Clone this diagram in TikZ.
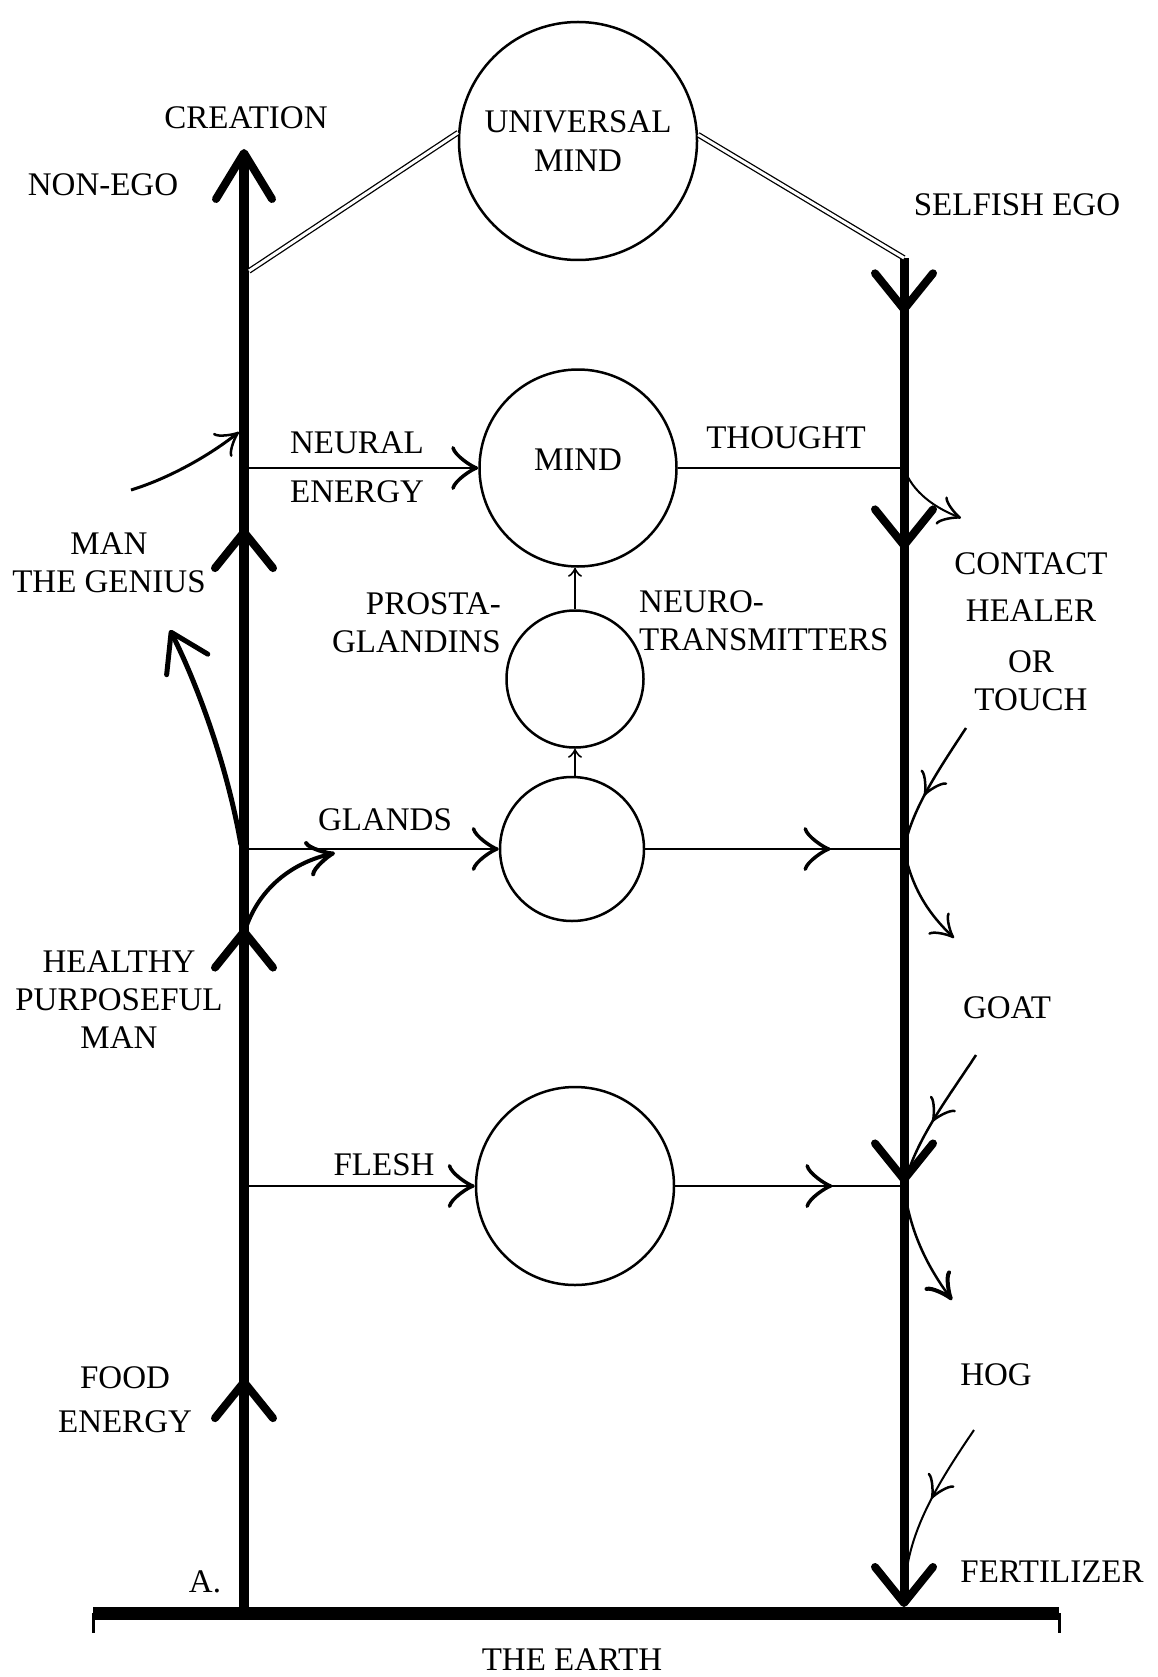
\documentclass[tikz,border=0pt]{standalone}
\usepackage{fontspec}
\setmainfont{Liberation Serif}
\usepackage{tikz}
\usetikzlibrary{arrows.meta,positioning,calc,decorations.markings}

\begin{document}
\begin{tikzpicture}[
    x=1pt, y=-1pt,
    bigtip/.tip={Straight Barb[length=36pt, width=58pt, line width=8pt, round]},
    toptip/.tip={Straight Barb[length=46pt, width=56pt, line width=8pt, round]},
    midtip/.tip={Classical TikZ Rightarrow[length=27pt, width=44pt, line width=3.5pt]},
    smalltip/.tip={Classical TikZ Rightarrow[length=22pt, width=30pt, line width=2.5pt]},
    tinytip/.tip={Classical TikZ Rightarrow[length=9pt, width=14pt, line width=1.6pt]},
    lbl/.style={font=\fontsize{33}{38}\selectfont, align=center, inner sep=0pt},
    orb/.style={circle, draw, line width=2.5pt, inner sep=0pt, minimum size=#1, font=\fontsize{33}{39}\selectfont, align=center},
    feed/.style={line width=2pt},
    twin/.style={double, double distance=3pt, line width=1.3pt},
    midmark/.style={postaction={decorate}, decoration={markings, mark=at position #1 with {\arrow{midtip}}}},
    smallmark/.style={postaction={decorate}, decoration={markings, mark=at position #1 with {\arrow{smalltip}}}},
    upmarks/.style={postaction={decorate}, decoration={markings,
        mark=at position 0.157 with {\arrow{bigtip}},
        mark=at position 0.466 with {\arrow{bigtip}},
        mark=at position 0.740 with {\arrow{bigtip}}}},
    downmarks/.style={postaction={decorate}, decoration={markings,
        mark=at position 0.041 with {\arrow{bigtip}},
        mark=at position 0.216 with {\arrow{bigtip}},
        mark=at position 0.686 with {\arrow{bigtip}}}},
]
    \useasboundingbox (0,0) rectangle (1157,1677);

    % Circles
    \node[orb=238pt] (um) at (578,141) {UNIVERSAL\\MIND};
    \node[orb=197pt] (mind) at (578,468) {};
    \node[orb=137pt] (pg) at (575,679) {};
    \node[orb=144pt] (gl) at (572,849) {};
    \node[orb=198pt] (fl) at (575,1186) {};
    \node[lbl] (mindlbl) at (578,460) {MIND};

    % Points on the two trunks
    \coordinate (lfoot) at (244,1607);
    \coordinate (ltop) at (244,149);
    \coordinate (rtop) at (904,258);
    \coordinate (rfoot) at (904,1607);
    \coordinate (ljoin) at (249,271);
    \coordinate (lne) at (244,468);
    \coordinate (lgl) at (244,849);
    \coordinate (lfl) at (244,1186);
    \coordinate (rth) at (904,468);
    \coordinate (rgl) at (904,849);
    \coordinate (rfl) at (904,1186);

    % The earth
    \coordinate (eL) at (93,1613);
    \coordinate (eR) at (1059,1613);
    \draw[line width=13pt] (eL) -- (eR);
    \draw[line width=3pt] (eL) -- ++(0,20);
    \draw[line width=3pt] (eR) -- ++(0,20);

    % Trunks
    \draw[line width=10pt, upmarks, -{toptip}] (lfoot) -- (ltop);
    \draw[line width=9pt, downmarks, -{bigtip}] (rtop) -- (rfoot);

    % Links to the universal mind
    \draw[twin] (ljoin) -- (um.176);
    \draw[twin] (um.3) -- (rtop);

    % Feeds into the circles
    \draw[feed, -{midtip}] (lne) -- (mind.west);
    \draw[feed] (mind.east) -- (rth);
    \draw[feed, -{midtip}] (lgl) -- (gl.west);
    \draw[feed, midmark=0.716] (gl.east) -- (rgl);
    \draw[feed, -{midtip}] (lfl) -- (fl.west);
    \draw[feed, midmark=0.687] (fl.east) -- (rfl);
    \draw[line width=1.8pt, -{tinytip}] (pg.north) -- (pg.north |- mind.south);
    \draw[line width=1.8pt, -{tinytip}] (pg.south |- gl.north) -- (pg.south);

    % Curved arrows, left side
    \coordinate (nin) at (131,490);
    \coordinate (nend) at (239,432);
    \draw[line width=3pt, -{smalltip}] (nin) .. controls (170,478) and (210,455) .. (nend);
    \coordinate (gstart) at (241,845);
    \coordinate (gend) at (170,630);
    \draw[line width=5pt, -{Straight Barb[length=36pt, width=46pt, line width=5pt, round]}]
        (gstart) .. controls (228,770) and (200,690) .. (gend);
    \coordinate (hstart) at (247,925);
    \coordinate (hend) at (335,853);
    \draw[line width=4pt, -{Classical TikZ Rightarrow[length=28pt, width=36pt, line width=4pt]}]
        (hstart) .. controls (262,885) and (295,862) .. (hend);

    % Curved arrows, right side
    \coordinate (thend) at (961,518);
    \draw[line width=2pt, -{smalltip}] (rth) .. controls (912,492) and (935,508) .. (thend);
    \coordinate (tin) at (966,728);
    \coordinate (tout) at (954,938);
    \draw[line width=2.5pt, smallmark=0.33, -{smalltip}]
        (tin) .. controls (935,775) and (912,810) .. (rgl)
        .. controls (912,890) and (930,915) .. (tout);
    \coordinate (gin) at (976,1055);
    \coordinate (gout) at (952,1300);
    \draw[line width=2.5pt, smallmark=0.29, -{Classical TikZ Rightarrow[length=26pt, width=32pt, line width=4pt]}]
        (gin) .. controls (950,1095) and (915,1140) .. (rfl)
        .. controls (910,1235) and (930,1270) .. (gout);
    \coordinate (hogin) at (974,1430);
    \coordinate (hogend) at (906,1575);
    \draw[line width=2pt, smallmark=0.5] (hogin) .. controls (940,1480) and (912,1525) .. (hogend);

    % Labels
    \node[lbl] (creation) at (246,118) {CREATION};
    \node[lbl] (nonego) at (103,185) {NON-EGO};
    \node[lbl] (selfish) at (1017,205) {SELFISH EGO};
    \node[lbl] (neural) at (357,467) {NEURAL\\[11pt]ENERGY};
    \node[lbl] (thought) at (786,438) {THOUGHT};
    \node[lbl] (genius) at (109,563) {MAN\\THE GENIUS};
    \node[lbl, align=right, anchor=east] (prosta) at (501,623) {PROSTA-\\GLANDINS};
    \node[lbl, align=left, anchor=west] (neuro) at (639,621) {NEURO-\\TRANSMITTERS};
    \node[lbl] (contact) at (1031,632) {CONTACT\\[9pt]HEALER\\[13pt]OR\\TOUCH};
    \node[lbl] (glandslbl) at (385,820) {GLANDS};
    \node[lbl] (healthy) at (119,1000) {HEALTHY\\PURPOSEFUL\\MAN};
    \node[lbl] (goat) at (1007,1008) {GOAT};
    \node[lbl] (fleshlbl) at (384,1165) {FLESH};
    \node[lbl] (food) at (125,1400) {FOOD\\[6pt]ENERGY};
    \node[lbl] (hog) at (996,1375) {HOG};
    \node[lbl] (fert) at (1052,1572) {FERTILIZER};
    \node[lbl] (pointA) at (205,1582) {A.};
    \node[lbl] (earth) at (572,1660) {THE EARTH};
\end{tikzpicture}
\end{document}
